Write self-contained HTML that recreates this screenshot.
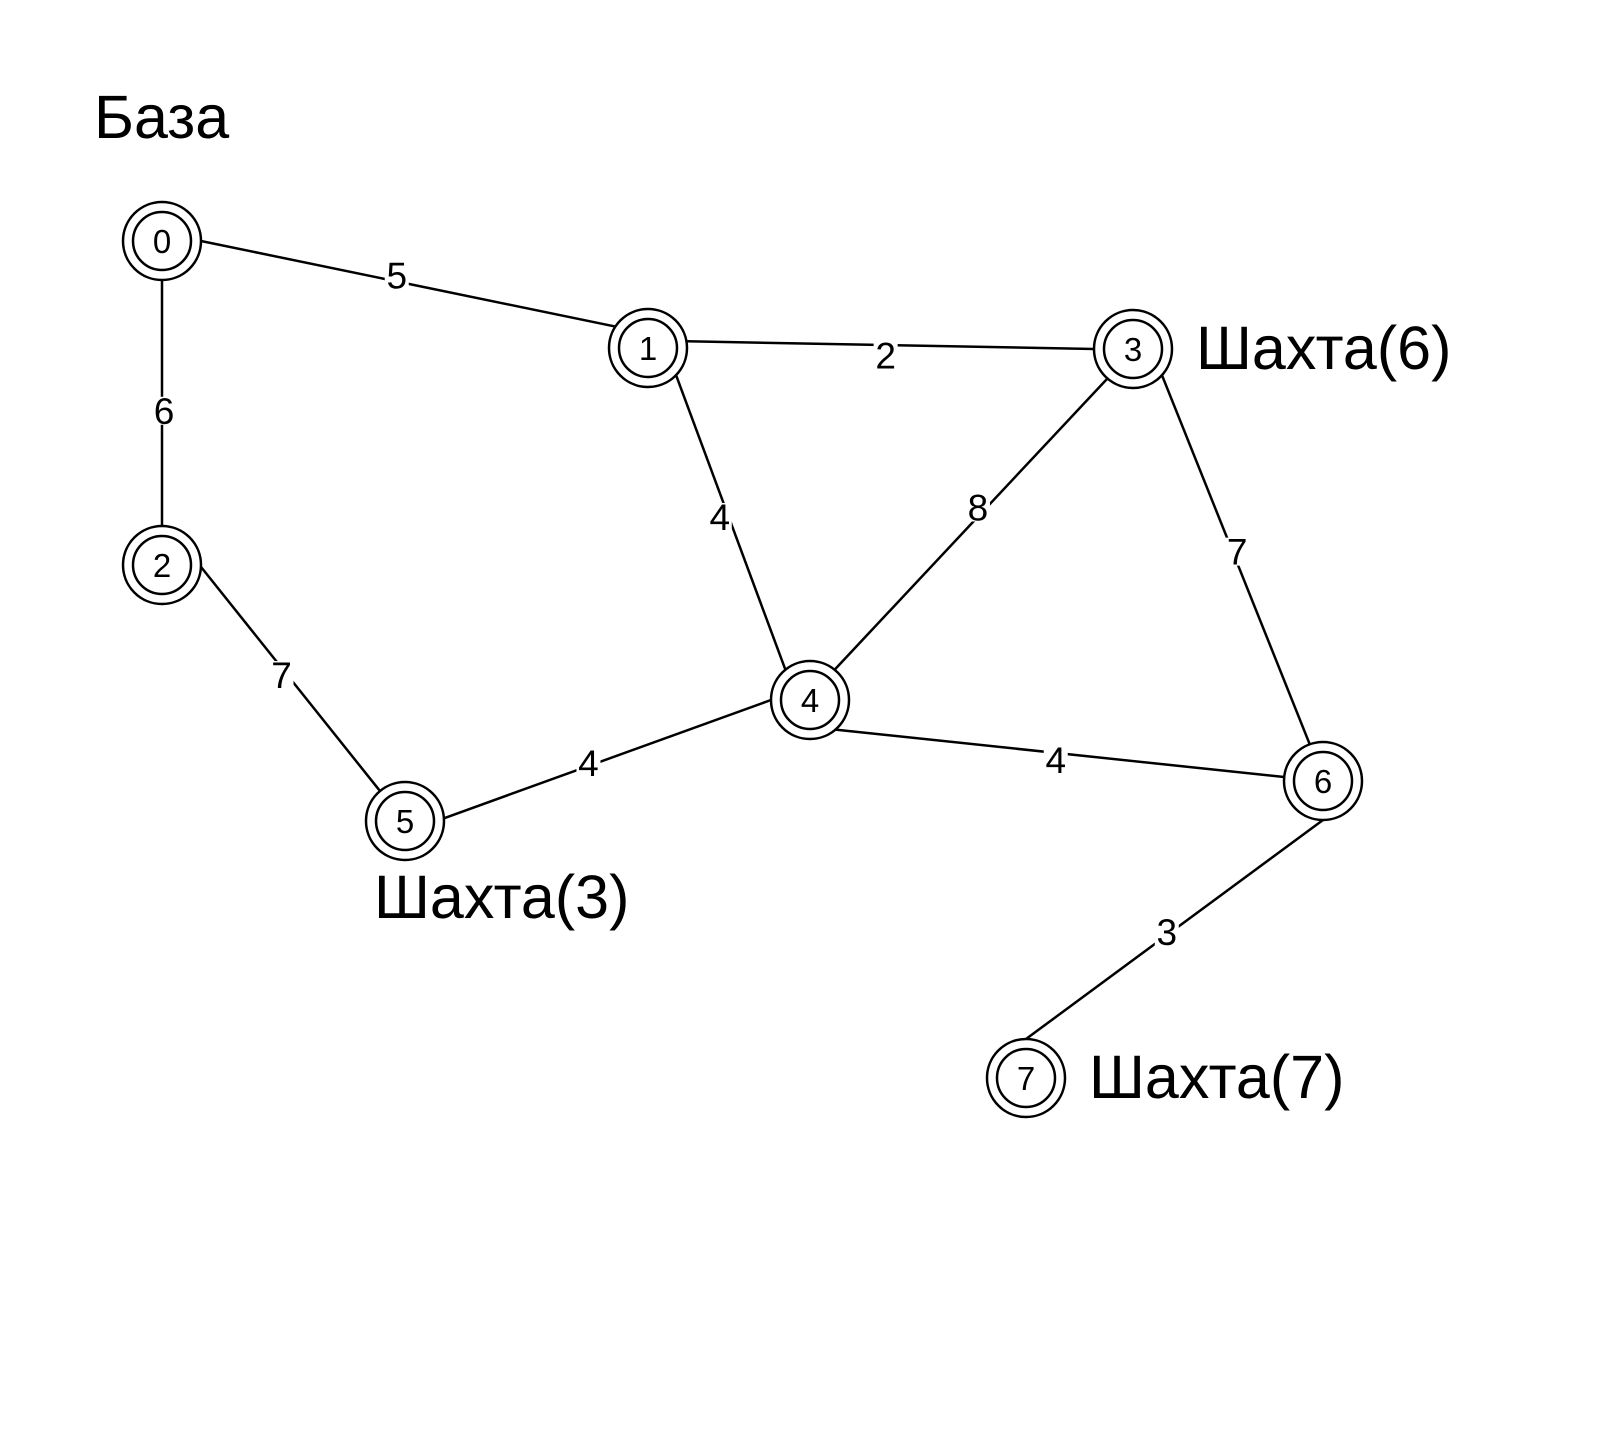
<!DOCTYPE html>
<html><head><meta charset="utf-8"><style>
html,body{margin:0;padding:0;background:#fff}
svg{display:block}
text{font-family:"Liberation Sans",sans-serif;fill:#000}
</style></head><body>
<svg id="g" width="1598" height="1446" viewBox="0 0 1598 1446">
<g id="edges"></g><g id="elabels"></g><g id="nodes"></g><g id="tags"></g>
</svg>
<script>
const nodeIds=[0,1,2,3,4,5,6,7];
const nodeX=[162,648,162,1133,810,405,1323,1026];
const nodeY=[241,348,565,349,700,821,781,1078];
const edgeFrom=[0,0,1,1,3,3,2,5,4,6];
const edgeTo=[1,2,3,4,4,6,5,4,6,7];
const edgeWeight=[5,6,2,4,8,7,7,4,4,3];
const edgeLabelPos=[0.483,0.524,0.49,0.48,0.48,0.469,0.43,0.453,0.479,0.526];
const labelDx=[0,2,0,-6,0,15,15,0,0,0];
const labelDy=[-17,0,7,0,-10,0,0,-3,21,-5];
// attachment directions on node rings (layout)
const portFrom=[[40,0],[0,40],[40,-7],[30,29],[-26,30],[31,28],[41,2],[43,-3],[24,28],[0,39]];
const portTo=[[-35,-23],[0,-40],[-39,0],[-26,-32],[26,-32],[-13,-36],[-25,-30],[-39,0],[-39,-4],[0,-39]];
const tagText=["База","Шахта(6)","Шахта(3)","Шахта(7)"];
const tagX=[94,1196,374,1089];
const tagY=[138,369,918,1098];
const NS="http://www.w3.org/2000/svg";
function mk(t,a,p){const e=document.createElementNS(NS,t);for(const k in a)e.setAttribute(k,a[k]);p.appendChild(e);return e;}
function port(v){const l=Math.hypot(v[0],v[1]);return [v[0]/l*39,v[1]/l*39];}
const E=document.getElementById('edges'),L=document.getElementById('elabels'),N=document.getElementById('nodes'),T=document.getElementById('tags');
edgeFrom.forEach((f,i)=>{
  const t=edgeTo[i];
  const a=port(portFrom[i]),b=port(portTo[i]);
  const ln=mk('line',{x1:nodeX[f]+a[0],y1:nodeY[f]+a[1],x2:nodeX[t]+b[0],y2:nodeY[t]+b[1],stroke:'#000','stroke-width':2.5},E);
  
  
  const p=edgeLabelPos[i];
  const cx=nodeX[f]+(nodeX[t]-nodeX[f])*p+labelDx[i], cy=nodeY[f]+(nodeY[t]-nodeY[f])*p+labelDy[i];
  const bg=mk('rect',{x:cx-12,y:cy-14,width:24,height:28,fill:'#fff'},L);
  
  
  const tx=mk('text',{x:cx,y:cy+13,'text-anchor':'middle','font-size':37},L);
  tx.textContent=edgeWeight[i];
  
  
});
nodeIds.forEach((id,i)=>{
  const g=mk('g',{},N);
  
  
  mk('circle',{cx:nodeX[i],cy:nodeY[i],r:39,fill:'#fff',stroke:'#000','stroke-width':2.5},g);
  mk('circle',{cx:nodeX[i],cy:nodeY[i],r:29,fill:'#fff',stroke:'#000','stroke-width':2.5},g);
  const tx=mk('text',{x:nodeX[i],y:nodeY[i]+12,'text-anchor':'middle','font-size':33},g);
  tx.textContent=id;
});
tagText.forEach((s,i)=>{
  const tx=mk('text',{x:tagX[i],y:tagY[i],'font-size':61},T);
  tx.textContent=s;
  
  
});
</script>
</body></html>
